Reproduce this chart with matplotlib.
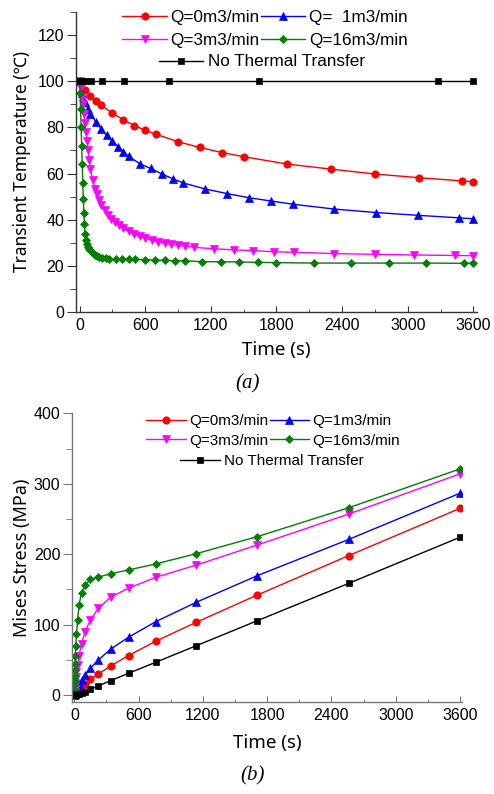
import matplotlib
matplotlib.use('Agg')
import matplotlib.pyplot as plt
from matplotlib.ticker import MultipleLocator

# ---- (a) transient temperature data ----
t_q0 = [0, 50, 100, 150, 200, 300, 400, 500, 600, 700, 900, 1100, 1300, 1500,
        1900, 2300, 2700, 3100, 3500, 3600]
T_q0 = [100, 96.2, 93.7, 91.4, 89.5, 86.2, 83.3, 80.8, 78.8, 77.0, 73.8, 71.3,
        69.1, 67.3, 64.1, 61.9, 59.8, 58.2, 56.8, 56.5]

t_q1 = [0, 25, 50, 75, 100, 150, 200, 250, 300, 350, 400, 450, 550, 650, 750,
        850, 950, 1150, 1350, 1550, 1750, 1950, 2330, 2710, 3090, 3470, 3600]
T_q1 = [100, 95, 91, 88, 86, 82.3, 79.2, 76.5, 74, 71.7, 69.5, 67.4, 64.3, 62.2,
        59.9, 57.8, 55.9, 53.3, 51.3, 49.5, 48.1, 46.7, 44.6, 43.1, 41.9, 40.8, 40.4]

t_q3 = [0, 10, 20, 30, 40, 50, 60, 70, 80, 90, 100, 120, 140, 160, 180, 200, 230,
        260, 290, 320, 360, 400, 450, 500, 550, 600, 660, 720, 780, 840, 900, 960,
        1050, 1230, 1410, 1590, 1780, 1960, 2330, 2700, 3060, 3430, 3600]
T_q3 = [100, 97, 93, 90, 86, 82, 78, 74, 70, 66, 62, 57, 53.5, 51, 48.5, 46.5, 44,
        42, 40.5, 39.2, 37.6, 36.4, 35, 33.8, 32.8, 32, 31.1, 30.4, 29.8, 29.3, 28.9,
        28.6, 28.0, 27.4, 26.9, 26.6, 26.1, 25.9, 25.3, 25.0, 24.7, 24.5, 24.4]

t_q16 = [0, 5, 10, 15, 20, 25, 30, 35, 40, 45, 50, 60, 70, 80, 90, 100, 120, 140,
         160, 180, 210, 240, 270, 330, 390, 450, 510, 600, 690, 780, 870, 960, 1120,
         1290, 1460, 1630, 1800, 2140, 2480, 2830, 3170, 3510, 3600]
T_q16 = [100, 95, 88, 80, 72, 64, 56, 49, 43, 38, 34, 31, 29.5, 28.3, 27.5, 26.7,
         25.6, 24.8, 24.3, 23.9, 23.5, 23.2, 23.0, 22.9, 22.9, 22.8, 22.8, 22.7,
         22.5, 22.4, 22.2, 22.2, 21.8, 21.8, 21.7, 21.5, 21.4, 21.2, 21.2, 21.2,
         21.2, 21.1, 21.1]

t_none = [0, 0.1, 0.2, 0.4, 0.8, 1.6, 3.2, 6.4, 12.8, 25.6, 51.2, 102.4, 204.8,
          409.6, 819.2, 1638.4, 3276.8, 3600]
T_none = [100, 100, 100, 100, 100, 100, 100, 100, 100, 100, 100, 100, 100, 100,
          100, 100, 100, 100]

# ---- (b) Mises stress data ----
t_b = [0, 0.8, 1.2, 1.7, 2.6, 3.9, 5.9, 8.8, 13, 20, 30, 44, 67, 100, 150, 225,
       338, 506, 759, 1139, 1709, 2563, 3600]
S_q0 = [0, 0.15, 0.2, 0.3, 0.5, 0.7, 1.1, 1.6, 2.3, 3.4, 5, 7.4, 10.8, 15.6, 22.3,
        29.8, 41.2, 56, 76.3, 103.3, 142, 198, 265]
S_q1 = [0, 0.5, 0.8, 1.2, 1.8, 2.5, 3.5, 4.8, 6.5, 8.8, 12, 16, 21.5, 28.4, 38,
        49.7, 65, 82, 104, 131.7, 169.5, 221, 286.5]
S_q3 = [0, 2, 3, 4.5, 6.5, 9, 13, 18, 25, 33, 43, 56, 72, 90, 106.5, 123, 139,
        151.5, 167, 184.5, 213, 257, 314]
S_q16 = [0, 9, 14, 20, 27, 35, 44, 55, 69, 86, 106, 128, 145, 156, 164, 167.5,
         172, 177.6, 186, 200.7, 224.9, 266, 321]
S_none = [0, 0.05, 0.1, 0.1, 0.15, 0.2, 0.3, 0.4, 0.5, 0.7, 1.1, 1.7, 2.8, 4.7,
          8.1, 12.8, 20.3, 30.8, 46.4, 70, 105.5, 158.6, 224]

labels_a = ['Q=0m3/min', 'Q=  1m3/min', 'Q=3m3/min', 'Q=16m3/min', 'No Thermal Transfer']
labels_b = ['Q=0m3/min', 'Q=1m3/min', 'Q=3m3/min', 'Q=16m3/min', 'No Thermal Transfer']
colors = ['#ff0000', '#0000ff', '#ff00ff', '#008000', '#000000']
markers = ['o', '^', 'v', 'D', 's']
msizes = [5.3, 5.3, 5.3, 4.5, 4.3]

W, H = 494, 794
fig = plt.figure(figsize=(W / 100, H / 100), dpi=100)

tick_font = 'Liberation Sans'
label_font = ['Noto Sans', 'DejaVu Sans']


def px(x, y):
    return x / W, 1 - y / H


def style_axes(ax, spine_col, xlim, ylim, ymaj, ymin):
    for s in ['top', 'right']:
        ax.spines[s].set_visible(False)
    for s in ['left', 'bottom']:
        ax.spines[s].set_color(spine_col)
        ax.spines[s].set_linewidth(1.0)
    ax.set_xlim(*xlim)
    ax.set_ylim(*ylim)
    ax.xaxis.set_major_locator(MultipleLocator(600))
    ax.xaxis.set_minor_locator(MultipleLocator(300))
    ax.yaxis.set_major_locator(MultipleLocator(ymaj))
    ax.yaxis.set_minor_locator(MultipleLocator(ymin))
    ax.tick_params(axis='x', which='major', direction='in', length=4, pad=4,
                   color=spine_col, labelsize=11.5, labelfontfamily=tick_font)
    ax.tick_params(axis='x', which='minor', direction='in', length=2, color=spine_col)
    ax.tick_params(axis='y', which='major', direction='out', length=6.5, pad=2,
                   color=spine_col, labelsize=11.5, labelfontfamily=tick_font)
    ax.tick_params(axis='y', which='minor', direction='out', length=4, color=spine_col)


def add_legends(handles, labels, c1, c2, fs, rowsp):
    # ncol=2 fills by column, so reorder to get rows (Q0, Q1) and (Q3, Q16)
    order = [0, 2, 1, 3]
    leg1 = fig.legend([handles[i] for i in order], [labels[i] for i in order],
                      ncol=2, loc='center',
                      bbox_to_anchor=px(*c1), bbox_transform=fig.transFigure,
                      frameon=False, handlelength=2.6, handletextpad=0.2,
                      columnspacing=0.1, labelspacing=rowsp, borderpad=0,
                      prop={'family': tick_font, 'size': fs})
    leg2 = fig.legend(handles[4:], labels[4:], loc='center',
                      bbox_to_anchor=px(*c2), bbox_transform=fig.transFigure,
                      frameon=False, handlelength=2.6, handletextpad=0.3,
                      borderpad=0, prop={'family': tick_font, 'size': fs})
    return leg1, leg2


# ---------- (a) ----------
ax1 = fig.add_axes([76 / W, 1 - 312 / H, (476.7 - 76) / W, 300 / H])
series_a = [(t_q0, T_q0), (t_q1, T_q1), (t_q3, T_q3), (t_q16, T_q16), (t_none, T_none)]
ha = []
for (t, v), c, m, ms in zip(series_a, colors, markers, msizes):
    h, = ax1.plot(t, v, color=c, marker=m, markersize=ms, linewidth=1.0,
                  markeredgewidth=0.5)
    ha.append(h)
style_axes(ax1, '#333333', (-32, 3630), (0, 130), 20, 10)
ax1.set_xlabel('Time (s)', family=label_font, fontsize=13.5, labelpad=6)
ax1.set_ylabel('Transient Temperature (\u2103)', family=label_font, fontsize=12.5,
               labelpad=5)
add_legends(ha, labels_a, (265, 29), (262, 62), 12.3, 0.42)
fig.text(*px(248, 384), '(a)', family='Liberation Serif', style='italic',
         fontsize=15, ha='center', va='center')

# ---------- (b) ----------
ax2 = fig.add_axes([72.3 / W, 1 - 702 / H, (461.7 - 72.3) / W, (702 - 413.3) / H])
series_b = [S_q0, S_q1, S_q3, S_q16, S_none]
hb = []
for v, c, m, ms in zip(series_b, colors, markers, msizes):
    h, = ax2.plot(t_b, v, color=c, marker=m, markersize=ms, linewidth=1.0,
                  markeredgewidth=0.5)
    hb.append(h)
style_axes(ax2, '#777777', (-19, 3616), (-10, 400), 100, 50)
ax2.set_xlabel('Time (s)', family=label_font, fontsize=13.5, labelpad=8)
ax2.set_ylabel('Mises Stress (MPa)', family=label_font, fontsize=13, labelpad=2)
add_legends(hb, labels_b, (273, 431), (272, 461), 11, 0.35)
fig.text(*px(253, 776), '(b)', family='Liberation Serif', style='italic',
         fontsize=15, ha='center', va='center')

fig.savefig('out.png', dpi=100)
